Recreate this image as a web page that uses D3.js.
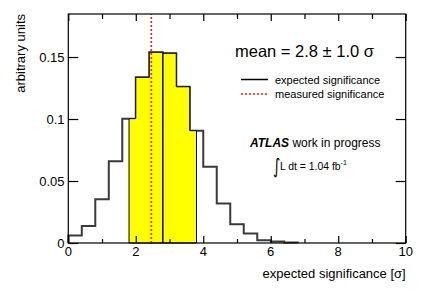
<!DOCTYPE html>
<html>
<head>
<meta charset="utf-8">
<script src="https://cdn.jsdelivr.net/npm/d3@7"></script>
<style>
  body { margin: 0; background: #fff; }
  text { font-family: "Liberation Sans", Arial, Helvetica, sans-serif; fill: #000; }
</style>
</head>
<body>
<div id="chart"></div>
<script>
// histogram of expected significance, bins 0.4 wide
const binLow = [0, 0.4, 0.8, 1.2, 1.6, 2.0, 2.4, 2.8, 3.2, 3.6, 4.0, 4.4, 4.8, 5.2, 5.6, 6.0, 6.4]
const binHigh = [0.4, 0.8, 1.2, 1.6, 2.0, 2.4, 2.8, 3.2, 3.6, 4.0, 4.4, 4.8, 5.2, 5.6, 6.0, 6.4, 6.8]
const binValue = [0.006, 0.0137, 0.0352, 0.0659, 0.1003, 0.1336, 0.1538, 0.1530, 0.1260, 0.0906,
                  0.0616, 0.0318, 0.0152, 0.0076, 0.0022, 0.0012, 0.0004]

const meanValue = 2.8
const meanError = 1.0
const measuredValue = 2.46

const xTicksMajor = [0, 2, 4, 6, 8, 10]
const xTicksMinor = [1, 3, 5, 7, 9]
const yTicks = [0, 0.05, 0.1, 0.15]
const yTickLabels = ['0', '0.05', '0.1', '0.15']

//**********************************************************************************************
//                                  CONSTANTS FOR CHART SIZE
//**********************************************************************************************
const TOTAL_WIDTH = 427
const TOTAL_HEIGHT = 290
const LEFT = 68.3
const RIGHT = 405.7
const TOP = 14
const BOTTOM = 243

const svg = d3.select('#chart').append('svg')
    .attr('width', TOTAL_WIDTH)
    .attr('height', TOTAL_HEIGHT)

const x_scale = d3.scaleLinear().domain([0, 10]).range([LEFT, RIGHT])
const y_scale = d3.scaleLinear().domain([0, 0.1847]).range([BOTTOM, TOP])

const bins = binLow.map((lo, i) => ({lo: lo, hi: binHigh[i], v: binValue[i]}))

// step outline of the histogram between two x values
function stepPoints(data, from, to) {
    let pts = []
    data.forEach(d => {
        let lo = Math.max(d.lo, from), hi = Math.min(d.hi, to)
        if (hi <= lo) return
        if (pts.length === 0) pts.push([lo, 0])
        pts.push([lo, d.v])
        pts.push([hi, d.v])
    })
    pts.push([pts[pts.length - 1][0], 0])
    return pts
}

const line = d3.line().x(d => x_scale(d[0])).y(d => y_scale(d[1]))

svg.append('path')
    .attr('d', line(stepPoints(bins, 0, 10)))
    .attr('fill', 'none')
    .attr('stroke', '#3a3a3a')
    .attr('stroke-width', 2)

// yellow band mean +- 1 sigma
svg.append('path')
    .attr('d', line(stepPoints(bins, meanValue - meanError, meanValue + meanError)) + 'Z')
    .attr('fill', '#ffff00')
    .attr('stroke', '#000')
    .attr('stroke-width', 1)

const meanBin = bins.find(d => d.lo <= meanValue && d.hi > meanValue)
svg.append('line')
    .attr('x1', x_scale(meanValue)).attr('x2', x_scale(meanValue))
    .attr('y1', y_scale(0)).attr('y2', y_scale(meanBin.v))
    .attr('stroke', '#000')
    .attr('stroke-width', 1.5)

svg.append('line')
    .attr('x1', x_scale(measuredValue)).attr('x2', x_scale(measuredValue))
    .attr('y1', BOTTOM).attr('y2', TOP)
    .attr('stroke', '#ff1a1a')
    .attr('stroke-width', 1.6)
    .attr('stroke-dasharray', '2,2')

//**********************************************************************************************
//                                  FRAME AND AXES
//**********************************************************************************************
svg.append('rect')
    .attr('x', LEFT).attr('y', TOP)
    .attr('width', RIGHT - LEFT).attr('height', BOTTOM - TOP)
    .attr('fill', 'none')
    .attr('stroke', '#000')
    .attr('stroke-width', 1.2)

svg.append('g').attr('transform', `translate(0,${TOP})`)
    .call(d3.axisBottom(x_scale).tickValues(xTicksMajor).tickSize(7).tickFormat(''))
svg.append('g').attr('transform', `translate(0,${TOP})`)
    .call(d3.axisBottom(x_scale).tickValues(xTicksMinor).tickSize(5).tickFormat(''))
svg.append('g').attr('transform', `translate(0,${BOTTOM})`)
    .call(d3.axisTop(x_scale).tickValues(xTicksMajor).tickSize(7).tickFormat(''))
svg.append('g').attr('transform', `translate(0,${BOTTOM})`)
    .call(d3.axisTop(x_scale).tickValues(xTicksMinor).tickSize(4).tickFormat(''))
svg.append('g').attr('transform', `translate(${LEFT},0)`)
    .call(d3.axisRight(y_scale).tickValues(yTicks).tickSize(10).tickFormat(''))
svg.append('g').attr('transform', `translate(${RIGHT},0)`)
    .call(d3.axisLeft(y_scale).tickValues(yTicks).tickSize(10).tickFormat(''))

svg.selectAll('.domain').remove()
svg.selectAll('.tick line').attr('stroke', '#000').attr('stroke-width', 1.2)

svg.append('g').selectAll('text')
    .data(xTicksMajor)
    .join('text')
    .attr('x', d => x_scale(d))
    .attr('y', 256)
    .attr('text-anchor', 'middle')
    .style('font-size', '13px')
    .text(d => d)

svg.append('g').selectAll('text')
    .data(yTicks)
    .join('text')
    .attr('x', 64.5)
    .attr('y', d => y_scale(d) + 4.5)
    .attr('text-anchor', 'end')
    .style('font-size', '13px')
    .text((d, i) => yTickLabels[i])

svg.append('text')
    .attr('transform', `translate(25,${TOP})rotate(-90)`)
    .attr('text-anchor', 'end')
    .style('font-size', '13px')
    .text('arbitrary units')

svg.append('text')
    .attr('x', RIGHT)
    .attr('y', 278)
    .attr('text-anchor', 'end')
    .style('font-size', '13px')
    .text('expected significance [σ]')

//**********************************************************************************************
//                                  LEGEND AND LABELS
//**********************************************************************************************
svg.append('text')
    .attr('x', 235)
    .attr('y', 57)
    .style('font-size', '16.5px')
    .text(`mean = ${meanValue.toFixed(1)} ± ${meanError.toFixed(1)} σ`)

svg.append('line')
    .attr('x1', 241).attr('x2', 268).attr('y1', 79.5).attr('y2', 79.5)
    .attr('stroke', '#000').attr('stroke-width', 1.5)
svg.append('text')
    .attr('x', 275).attr('y', 83.5)
    .style('font-size', '11px')
    .text('expected significance')

svg.append('line')
    .attr('x1', 241).attr('x2', 268).attr('y1', 94).attr('y2', 94)
    .attr('stroke', '#ff1a1a').attr('stroke-width', 1.6)
    .attr('stroke-dasharray', '2,2')
svg.append('text')
    .attr('x', 275).attr('y', 98)
    .style('font-size', '11px')
    .text('measured significance')

const atlas = svg.append('text')
    .attr('x', 250).attr('y', 147)
    .style('font-size', '12px')
atlas.append('tspan')
    .attr('font-weight', 'bold')
    .attr('font-style', 'italic')
    .text('ATLAS')
atlas.append('tspan').text(' work in progress')

// integral sign, stretched to match the tall ROOT glyph
svg.append('text')
    .attr('transform', 'translate(273,172.5)scale(1,1.45)')
    .style('font-family', '"DejaVu Sans"')
    .style('font-size', '14px')
    .text('∫')

const lumi = svg.append('text')
    .attr('x', 280).attr('y', 169.5)
    .style('font-size', '10.4px')
lumi.append('tspan').text('L dt = 1.04 fb')
lumi.append('tspan')
    .attr('dy', -4.5)
    .style('font-size', '7px')
    .text('-1')
</script>
</body>
</html>
